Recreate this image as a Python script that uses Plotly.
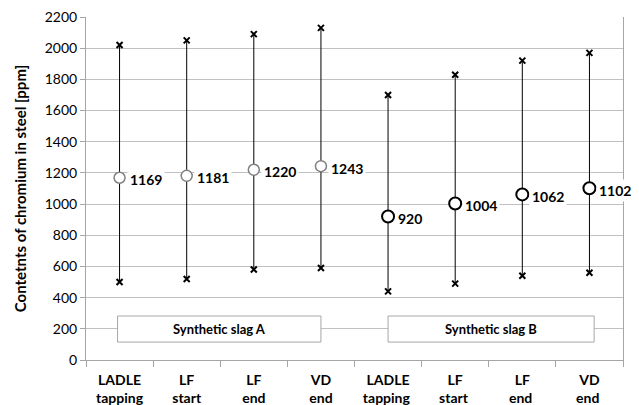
import plotly.graph_objects as go

categories = ["LADLE<br>tapping", "LF<br>start", "LF<br>end", "VD<br>end",
              "LADLE<br>tapping ", "LF<br>start ", "LF<br>end ", "VD<br>end "]
mean_vals = [1169, 1181, 1220, 1243, 920, 1004, 1062, 1102]
max_vals = [2020, 2050, 2090, 2130, 1700, 1830, 1920, 1970]
min_vals = [500, 520, 580, 590, 440, 490, 540, 560]
groups = ["Synthetic slag A", "Synthetic slag B"]
y_ticks = list(range(0, 2201, 200))

FONT = "Lato"
fig = go.Figure()

# vertical range lines
lx, ly = [], []
for c, lo, hi in zip(categories, min_vals, max_vals):
    lx += [c, c, None]
    ly += [lo, hi, None]
fig.add_trace(go.Scatter(x=lx, y=ly, mode="lines", line=dict(color="black", width=1),
                         hoverinfo="skip", showlegend=False))
# max / min crosses
fig.add_trace(go.Scatter(x=categories + categories, y=max_vals + min_vals, mode="markers",
                         marker=dict(symbol="x-thin", size=6, line=dict(color="black", width=2)),
                         showlegend=False))
# mean circles
fig.add_trace(go.Scatter(x=categories[:4], y=mean_vals[:4], mode="markers",
                         marker=dict(symbol="circle", size=11, color="white",
                                     line=dict(color="#808080", width=1.5)),
                         showlegend=False))
fig.add_trace(go.Scatter(x=categories[4:], y=mean_vals[4:], mode="markers",
                         marker=dict(symbol="circle", size=12, color="white",
                                     line=dict(color="black", width=2)),
                         showlegend=False))

for c, v in zip(categories, mean_vals):
    fig.add_annotation(x=c, y=v, text=f"<b>{v}</b>", showarrow=False, xanchor="left",
                       xshift=7, yshift=-2, bgcolor="white", borderpad=2,
                       font=dict(family=FONT, size=14, color="black"))

# group boxes
box_spans = [(-0.03, 3.0), (4.0, 7.07)]
for (x0, x1), g in zip(box_spans, groups):
    fig.add_shape(type="rect", xref="x", yref="y", x0=x0, x1=x1, y0=115, y1=282,
                  line=dict(color="#a6a6a6", width=1), fillcolor="white", layer="above")
    fig.add_annotation(x=(x0 + x1) / 2, y=198, text=f"<b>{g}</b>", showarrow=False,
                       font=dict(family=FONT, size=13, color="black"))

fig.update_layout(
    width=639, height=405, margin=dict(l=78, r=24, t=9, b=53),
    paper_bgcolor="white", plot_bgcolor="white",
    font=dict(family=FONT, size=14, color="black"),
    xaxis=dict(type="category", categoryorder="array", categoryarray=categories,
               range=[-0.5, 7.5], showgrid=False, showline=True, linecolor="#a6a6a6",
               ticks="outside", tickson="boundaries", ticklen=6, tickcolor="#a6a6a6",
               automargin=False, ticklabelstandoff=7,
               tickfont=dict(family=FONT, size=14, color="black"), tickprefix="<b>",
               ticksuffix="</b>"),
    yaxis=dict(range=[0, 2200], tickvals=y_ticks, showgrid=True, gridcolor="#c0c0c0",
               showline=True, mirror=True, linecolor="#a6a6a6", ticks="outside",
               ticklen=5, tickcolor="#a6a6a6", zeroline=False, automargin=False,
               ticklabeloverflow="allow",
               tickfont=dict(family=FONT, size=14, color="black"), tickprefix="<b>",
               ticksuffix="</b>",
               title=dict(text="<b>Contetnts of chromium in steel [ppm]</b>",
                          font=dict(family=FONT, size=15, color="black"), standoff=14)),
)
fig.write_html("out.html")
